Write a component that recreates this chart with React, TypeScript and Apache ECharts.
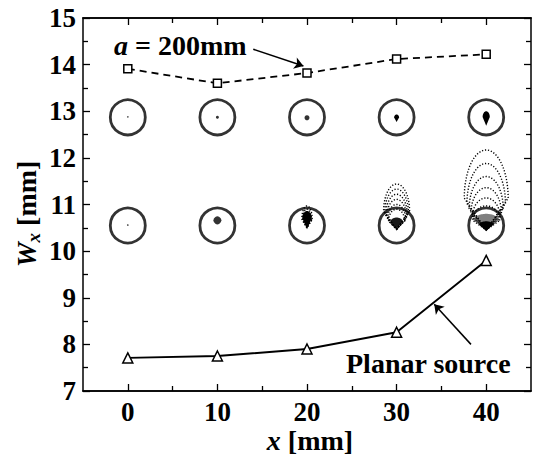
import React, { useEffect, useRef } from "react";
import * as echarts from "echarts";

// ---- data ----
const xPositions = [0, 10, 20, 30, 40];
const sourceA200 = [13.91, 13.6, 13.82, 14.12, 14.22];
const planarSource = [7.71, 7.75, 7.9, 8.26, 9.8];
const spotRows = [12.87, 10.55];
const xTickLabels = [0, 10, 20, 30, 40];
const xMinorTicks = [5, 15, 25, 35];
const yTickLabels = [7, 8, 9, 10, 11, 12, 13, 14, 15];

// small filled spots: [x, y, diameter(px)]
const dotCores = [
  [0, 12.88, 1.5],
  [10, 12.87, 3],
  [20, 12.86, 5],
  [0, 10.56, 1.5],
  [10, 10.66, 8],
];
// filled teardrop cores: [x, bottom, top, width (x units), opacity]
const dropCores = [
  [30, 12.77, 12.93, 0.55, 1],
  [40, 12.69, 13.0, 0.8, 1],
  [20, 10.47, 10.86, 1.05, 1],
  [30, 10.48, 10.72, 1.4, 0.9],
  [40, 10.45, 10.8, 2.8, 0.5],
  [40, 10.45, 10.64, 1.6, 1],
];
// dotted contours: [x, apex, top, width (x units)]
const contours = [
  [40, 10.45, 12.17, 4.9],
  [40, 10.45, 11.88, 4.3],
  [40, 10.45, 11.6, 3.8],
  [40, 10.45, 11.36, 3.4],
  [40, 10.45, 11.14, 3.1],
  [40, 10.45, 10.97, 3.0],
  [30, 10.47, 11.44, 2.9],
  [30, 10.47, 11.33, 2.65],
  [30, 10.47, 11.22, 2.4],
  [30, 10.47, 11.11, 2.2],
  [30, 10.47, 11.0, 2.0],
  [30, 10.47, 10.9, 1.8],
  [20, 10.5, 10.97, 1.15],
  [20, 10.5, 10.9, 1.0],
];
// annotation arrows: [from, to] in data coordinates
const arrowA200 = [[14.0, 14.33], [19.6, 13.97]];
const arrowPlanar = [[38.3, 8.0], [34.2, 8.86]];

const FONT = "Liberation Serif";

function balloon(api: any, frac: number) {
  const cx = api.value(0);
  const yb = api.value(1);
  const yt = api.value(2);
  const w = api.value(3);
  const pB = api.coord([cx, yb]);
  const pT = api.coord([cx, yt]);
  const pW = api.coord([cx + w / 2, yb]);
  const a = pW[0] - pB[0];
  const H = pB[1] - pT[1];
  const yc = pB[1] - frac * H;
  const b = yc - pT[1];
  const pts: number[][] = [];
  const N = 40;
  for (let i = 0; i <= N; i++) {
    const th = (Math.PI * i) / N;
    pts.push([pB[0] + a * Math.cos(th), yc - b * Math.sin(th)]);
  }
  pts.push([pB[0], pB[1]]);
  return pts;
}

export default function App() {
  const ref = useRef<HTMLDivElement>(null);
  useEffect(() => {
    const chart = echarts.init(ref.current!, null, { renderer: "svg" });
    const circleData: number[][] = [];
    spotRows.forEach((r) => xPositions.forEach((x) => circleData.push([x, r])));

    const baseX = {
      type: "value",
      min: -5,
      max: 45,
      splitLine: { show: false },
      axisLine: { show: true, onZero: false, lineStyle: { color: "#000", width: 1.5 } },
    };
    const baseY = {
      type: "value",
      min: 7,
      max: 15,
      interval: 1,
      splitLine: { show: false },
      axisLine: { show: true, onZero: false, lineStyle: { color: "#000", width: 1.5 } },
      axisTick: { show: true, inside: true, length: 7, lineStyle: { color: "#000", width: 1.3 } },
      minorTick: { show: true, splitNumber: 2, length: 5, lineStyle: { color: "#000", width: 1.3 } },
    };
    const majorXTick = {
      show: true,
      inside: true,
      length: 7,
      customValues: xTickLabels,
      lineStyle: { color: "#000", width: 1.3 },
    };
    const minorXTick = {
      show: true,
      inside: true,
      length: 5,
      customValues: xMinorTicks,
      lineStyle: { color: "#000", width: 1.3 },
    };

    chart.setOption({
      animation: false,
      backgroundColor: "#fff",
      grid: { left: 83, right: 9, top: 18, bottom: 63, containLabel: false },
      xAxis: [
        {
          ...baseX,
          position: "bottom",
          axisTick: majorXTick,
          axisLabel: {
            show: true,
            customValues: xTickLabels,
            margin: 7,
            color: "#000",
            fontFamily: FONT,
            fontWeight: "bold",
            fontSize: 27,
          },
        },
        { ...baseX, position: "bottom", axisTick: minorXTick, axisLabel: { show: false } },
        { ...baseX, position: "top", axisTick: majorXTick, axisLabel: { show: false } },
        { ...baseX, position: "top", axisTick: minorXTick, axisLabel: { show: false } },
      ],
      yAxis: [
        {
          ...baseY,
          position: "left",
          axisLabel: {
            show: true,
            margin: 7,
            color: "#000",
            fontFamily: FONT,
            fontWeight: "bold",
            fontSize: 27,
            formatter: (v: number) => (yTickLabels.includes(v) ? String(v) : ""),
          },
        },
        { ...baseY, position: "right", axisLabel: { show: false } },
      ],
      series: [
        {
          type: "custom",
          name: "contours",
          silent: true,
          z: 2,
          data: contours,
          renderItem: (params: any, api: any) => ({
            type: "polygon",
            shape: { points: balloon(api, 0.4) },
            style: { fill: "none", stroke: "#000", lineWidth: 1.4, lineDash: [1.2, 1.8] },
          }),
        },
        {
          type: "custom",
          name: "cores",
          silent: true,
          z: 3,
          data: dropCores,
          renderItem: (params: any, api: any) => ({
            type: "polygon",
            shape: { points: balloon(api, 0.6) },
            style: { fill: "#000", opacity: api.value(4) },
          }),
        },
        {
          type: "scatter",
          name: "dots",
          silent: true,
          z: 3,
          data: dotCores,
          symbol: "circle",
          symbolSize: (v: number[]) => v[2],
          itemStyle: { color: "#000" },
        },
        {
          type: "scatter",
          name: "spots",
          silent: true,
          z: 4,
          data: circleData,
          symbol: "circle",
          symbolSize: 35,
          itemStyle: { color: "rgba(0,0,0,0)", borderColor: "#000", borderWidth: 2.8 },
        },
        {
          type: "line",
          name: "a = 200mm",
          z: 5,
          data: xPositions.map((x, i) => [x, sourceA200[i]]),
          symbol: "rect",
          symbolSize: 8,
          showSymbol: true,
          lineStyle: { color: "#000", width: 1.8, type: [7, 5] },
          itemStyle: { color: "#fff", borderColor: "#000", borderWidth: 1.5 },
          markLine: {
            silent: true,
            symbol: ["none", "arrow"],
            symbolSize: 9,
            label: { show: false },
            lineStyle: { color: "#000", width: 1.5, type: "solid" },
            data: [[{ coord: arrowA200[0] }, { coord: arrowA200[1] }]],
          },
        },
        {
          type: "line",
          name: "Planar source",
          z: 5,
          data: xPositions.map((x, i) => [x, planarSource[i]]),
          symbol: "triangle",
          symbolSize: 10,
          showSymbol: true,
          lineStyle: { color: "#000", width: 1.9 },
          itemStyle: { color: "#fff", borderColor: "#000", borderWidth: 1.5 },
          markLine: {
            silent: true,
            symbol: ["none", "arrow"],
            symbolSize: 9,
            label: { show: false },
            lineStyle: { color: "#000", width: 1.5, type: "solid" },
            data: [[{ coord: arrowPlanar[0] }, { coord: arrowPlanar[1] }]],
          },
        },
      ],
      graphic: [
        {
          type: "text",
          x: 114,
          y: 45,
          z: 10,
          style: {
            text: "{i|a}{n| = 200mm}",
            verticalAlign: "middle",
            align: "left",
            fill: "#000",
            rich: {
              i: { fontFamily: FONT, fontWeight: "bold", fontStyle: "italic", fontSize: 28, fill: "#000" },
              n: { fontFamily: FONT, fontWeight: "bold", fontSize: 28, fill: "#000" },
            },
          },
        },
        {
          type: "text",
          x: 346,
          y: 363,
          z: 10,
          style: {
            text: "{n|Planar source}",
            verticalAlign: "middle",
            align: "left",
            fill: "#000",
            rich: {
              n: { fontFamily: FONT, fontWeight: "bold", fontSize: 28, fill: "#000" },
            },
          },
        },
        {
          type: "text",
          x: 26,
          y: 214,
          rotation: Math.PI / 2,
          z: 10,
          style: {
            text: "{w|W}{s|x}{n| [mm]}",
            align: "center",
            verticalAlign: "middle",
            fill: "#000",
            rich: {
              w: { fontFamily: FONT, fontWeight: "bold", fontStyle: "italic", fontSize: 28, fill: "#000" },
              s: {
                fontFamily: FONT,
                fontWeight: "bold",
                fontStyle: "italic",
                fontSize: 19,
                fill: "#000",
                verticalAlign: "bottom",
                padding: [14, 0, 0, 0],
              },
              n: { fontFamily: FONT, fontWeight: "bold", fontSize: 28, fill: "#000" },
            },
          },
        },
        {
          type: "text",
          x: 310,
          y: 440,
          z: 10,
          style: {
            text: "{i|x}{n| [mm]}",
            align: "center",
            verticalAlign: "middle",
            fill: "#000",
            rich: {
              i: { fontFamily: FONT, fontWeight: "bold", fontStyle: "italic", fontSize: 28, fill: "#000" },
              n: { fontFamily: FONT, fontWeight: "bold", fontSize: 28, fill: "#000" },
            },
          },
        },
      ],
    });
    return () => chart.dispose();
  }, []);
  return (
    <div
      ref={ref}
      style={{ position: "absolute", left: 0, top: 0, width: 540, height: 454 }}
    />
  );
}
